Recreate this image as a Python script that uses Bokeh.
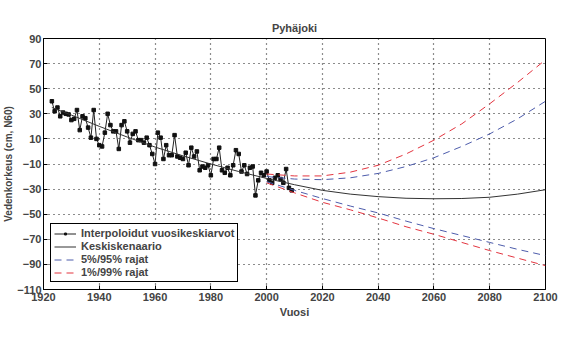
from bokeh.plotting import figure
from bokeh.models import FixedTicker, Legend, LegendItem
from bokeh.embed import file_html
from bokeh.resources import INLINE

# Annual mean water levels (interpolated), cm N60
obs_years = list(range(1923, 2010))
obs_values = [40, 32, 35, 28, 31, 30, 29.5, 25, 26, 33,
              17, 28, 26.5, 19, 11, 33, 10, 5, 4, 15,
              30, 21, 16, 16, 2, 21, 24, 16, 7, 14,
              16, 9, 9, 7, 11, 5, -2, -10, 15, 11,
              -6, 5, -3, -3, 13, -4, -5, -6, -1, -11,
              3, -4, 0, -15, -12, -13, -11, -19, -6, -6,
              3, -15, -17, -13, -19, -11, 1, -2, -16, -11,
              -18, -13, -12, -35, -23, -17, -19, -16, -23, -25,
              -21, -19, -22, -25, -14, -29, -31]

# Central scenario
mid_years = [1923, 1930, 1940, 1950, 1960, 1970, 1980, 1990, 2000, 2010,
             2020, 2030, 2040, 2050, 2060, 2070, 2080, 2090, 2100]
mid_values = [35, 29, 20, 11.5, 3.5, -3.5, -10, -16, -21.5, -26.5,
              -31, -34, -36, -37.3, -37.7, -37.5, -36.5, -34, -30.5]

# Bounds
bnd_years = [2000, 2010, 2020, 2030, 2040, 2050, 2060, 2070, 2080, 2090, 2100]
p95_upper = [-20, -22, -22.5, -21, -17.5, -12, -5, 4, 14, 26, 40]
p05_lower = [-24, -31, -37.5, -43.5, -49, -55.5, -61.5, -67, -72.5, -78, -83]
p99_upper = [-18, -19.5, -19.5, -16.5, -11, -2, 9, 22, 38, 55, 73]
p01_lower = [-25, -33, -40.5, -46.5, -53, -60, -66, -72.5, -79, -85, -91]

x_ticks = [1920, 1940, 1960, 1980, 2000, 2020, 2040, 2060, 2080, 2100]
y_ticks = [-110, -90, -70, -50, -30, -10, 10, 30, 50, 70, 90]

FONT = "Liberation Sans"
RED = "#e3343f"
BLUE = "#4d5cab"

p = figure(width=586, height=350, output_backend="svg", toolbar_location=None,
           x_range=(1920, 2100), y_range=(-110, 90),
           min_border_left=43, min_border_right=41, min_border_top=38,
           min_border_bottom=61, title="Pyhäjoki")

p.title.align = "center"
p.title.text_font = FONT
p.title.text_font_size = "11px"
p.title.text_font_style = "bold"
p.title.standoff = 9

for ax in (p.xaxis[0], p.yaxis[0]):
    ax.major_label_text_font = FONT
    ax.major_label_text_font_size = "11px"
    ax.major_label_text_font_style = "bold"
    ax.axis_label_text_font = FONT
    ax.axis_label_text_font_size = "11px"
    ax.axis_label_text_font_style = "bold"
    ax.major_tick_in = 4
    ax.major_tick_out = 0
    ax.minor_tick_in = 0
    ax.minor_tick_out = 0
    ax.axis_line_color = "black"
    ax.major_tick_line_color = "black"
    ax.major_label_standoff = 3

p.yaxis[0].axis_label_text_font_size = "10px"
p.yaxis[0].major_label_standoff = 2
p.xaxis[0].ticker = FixedTicker(ticks=x_ticks)
p.yaxis[0].ticker = FixedTicker(ticks=y_ticks)
p.xaxis[0].axis_label = "Vuosi"
p.yaxis[0].axis_label = "Vedenkorkeus (cm, N60)"
p.xaxis[0].axis_label_standoff = 2
p.yaxis[0].axis_label_standoff = 0

p.xgrid.ticker = FixedTicker(ticks=x_ticks)
p.ygrid.ticker = FixedTicker(ticks=y_ticks)
for g in (p.xgrid[0], p.ygrid[0]):
    g.grid_line_color = "black"
    g.grid_line_dash = "1 4"
    g.grid_line_width = 1.2
    g.grid_line_alpha = 0.9

p.outline_line_color = "black"
p.outline_line_width = 1
p.outline_line_alpha = 1

r_obs_line = p.line(obs_years, obs_values, line_color="#222222", line_width=1)
r_obs_pts = p.scatter(obs_years, obs_values, marker="square", size=3.5,
                      color="#111111")
r_mid = p.line(mid_years, mid_values, line_color="#333333", line_width=1)
r_95u = p.line(bnd_years, p95_upper, line_color=BLUE, line_width=1,
               line_dash="7 5")
p.line(bnd_years, p05_lower, line_color=BLUE, line_width=1, line_dash="7 5")
r_99u = p.line(bnd_years, p99_upper, line_color=RED, line_width=1,
               line_dash="7 5")
p.line(bnd_years, p01_lower, line_color=RED, line_width=1, line_dash="7 5")

legend = Legend(items=[
    LegendItem(label="Interpoloidut vuosikeskiarvot",
               renderers=[r_obs_line, r_obs_pts]),
    LegendItem(label="Keskiskenaario", renderers=[r_mid]),
    LegendItem(label="5%/95% rajat", renderers=[r_95u]),
    LegendItem(label="1%/99% rajat", renderers=[r_99u]),
], location=(7, 7))
legend.label_text_font = FONT
legend.label_text_font_size = "11px"
legend.label_text_font_style = "bold"
legend.label_height = 12
legend.glyph_height = 5
legend.glyph_width = 22
legend.label_standoff = 5
legend.spacing = 1
legend.padding = 3
legend.margin = 0
legend.border_line_color = "black"
legend.border_line_width = 1
legend.border_line_alpha = 1
legend.background_fill_alpha = 1
p.add_layout(legend)

open("out.html", "w").write(file_html(p, INLINE))
